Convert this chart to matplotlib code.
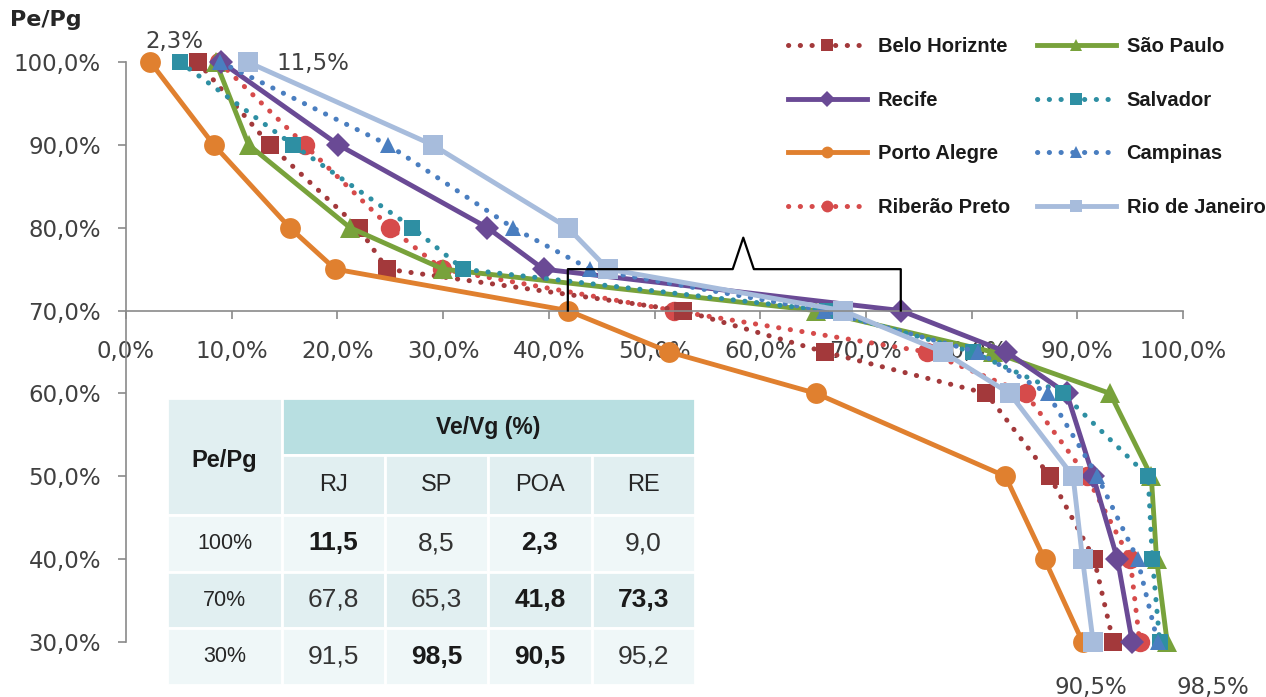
import matplotlib
matplotlib.use("Agg")
import matplotlib.pyplot as plt
from matplotlib.lines import Line2D
from matplotlib.patches import Rectangle
from matplotlib.ticker import FuncFormatter, MultipleLocator

# Pe/Pg levels (%) and Ve/Vg (%) for each city at those levels
pe_pg = [100, 90, 80, 75, 70, 65, 60, 50, 40, 30]

belo_horizonte = [6.8, 13.6, 22.0, 24.7, 52.7, 66.1, 81.4, 87.4, 91.6, 93.4]
sao_paulo      = [8.5, 11.6, 21.2, 30.0, 65.3, 82.0, 93.1, 97.0, 97.5, 98.5]
recife         = [9.0, 20.1, 34.2, 39.5, 73.3, 83.3, 89.0, 91.5, 93.8, 95.2]
salvador       = [5.1, 15.8, 27.1, 31.9, 66.3, 80.1, 88.6, 96.7, 97.1, 97.8]
porto_alegre   = [2.3, 8.3, 15.5, 19.8, 41.8, 51.4, 65.3, 83.2, 86.9, 90.5]
campinas       = [8.9, 24.8, 36.6, 43.9, 66.0, 80.6, 87.2, 91.9, 95.7, 97.6]
ribeirao_preto = [8.8, 16.9, 25.0, 29.9, 51.8, 75.8, 85.1, 90.9, 95.0, 95.9]
rio_de_janeiro = [11.5, 29.0, 41.8, 45.6, 67.8, 77.3, 83.6, 89.6, 90.5, 91.5]

city_names = ["Belo Horiznte", "São Paulo", "Recife", "Salvador",
              "Porto Alegre", "Campinas", "Riberão Preto", "Rio de Janeiro"]

# Summary table: columns and the Pe/Pg rows it reports
table_cols = ["RJ", "SP", "POA", "RE"]
table_rows = [100, 70, 30]

W, H = 1266, 697
fig = plt.figure(figsize=(W / 100, H / 100), dpi=100)
fig.patch.set_facecolor("white")

ax = fig.add_axes([126 / W, (H - 642) / H, 1057 / W, 580 / H])
ax.set_xlim(0, 100)
ax.set_ylim(30, 100)

styles = {
    "Belo Horiznte":  dict(color="#a3393b", ls="dot", marker="s", ms=13, z=2.0),
    "São Paulo":      dict(color="#78a23b", ls="solid", marker="^", ms=14, z=2.0),
    "Recife":         dict(color="#6a4a95", ls="solid", marker="D", ms=12, z=2.0),
    "Salvador":       dict(color="#2e8fa3", ls="dot", marker="s", ms=12, z=2.0),
    "Porto Alegre":   dict(color="#e0802f", ls="solid", marker="o", ms=15, z=2.0),
    "Campinas":       dict(color="#4a7ec0", ls="dot", marker="^", ms=12, z=2.0),
    "Riberão Preto":  dict(color="#d64b4b", ls="dot", marker="o", ms=14, z=1.9),
    "Rio de Janeiro": dict(color="#a7bcdc", ls="solid", marker="s", ms=15, z=2.1),
}
series = [belo_horizonte, sao_paulo, recife, salvador,
          porto_alegre, campinas, ribeirao_preto, rio_de_janeiro]

handles = {}
for name, vals in zip(city_names, series):
    st = styles[name]
    if st["ls"] == "dot":
        lkw = dict(linestyle=(0, (0.05, 2.3)), dash_capstyle="round", linewidth=3.6)
    else:
        lkw = dict(linestyle="-", linewidth=3.5, solid_joinstyle="round")
    ax.plot(vals, pe_pg, color=st["color"], marker=st["marker"],
            markersize=st["ms"], markeredgewidth=0, clip_on=False,
            zorder=st["z"], **lkw)
    handles[name] = Line2D([], [], color=st["color"], marker=st["marker"],
                           markersize=8.5, markeredgewidth=0, **lkw)

# Axes styling: y axis on the left, x axis crossing at Pe/Pg = 70%
for s in ("top", "right"):
    ax.spines[s].set_visible(False)
ax.spines["left"].set_color("#8a8a8a")
ax.spines["bottom"].set_color("#8a8a8a")
ax.spines["bottom"].set_position(("data", 70))
ax.spines["left"].set_linewidth(1.2)
ax.spines["bottom"].set_linewidth(1.2)
ax.xaxis.set_major_locator(MultipleLocator(10))
ax.yaxis.set_major_locator(MultipleLocator(10))
pct = FuncFormatter(lambda v, p: f"{v:.1f}%".replace(".", ","))
ax.xaxis.set_major_formatter(pct)
ax.yaxis.set_major_formatter(pct)
ax.tick_params(axis="x", direction="out", length=6, width=1.2, color="#8a8a8a",
               labelsize=16.5, labelcolor="#404040", pad=15)
ax.tick_params(axis="y", direction="out", length=6, width=1.2, color="#8a8a8a",
               labelsize=16.5, labelcolor="#404040", pad=12)
ax.set_facecolor("none")

fig.text(10 / W, 1 - 20 / H, "Pe/Pg", fontsize=16, fontweight="bold",
         color="#262626", va="center", ha="left")

# Value callouts
lab_kw = dict(fontsize=16.5, color="#404040", textcoords="offset points",
              annotation_clip=False)
ax.annotate("2,3%", (porto_alegre[0], pe_pg[0]), xytext=(17, 15),
            ha="center", va="center", **lab_kw)
ax.annotate("11,5%", (rio_de_janeiro[0], pe_pg[0]), xytext=(21, -1),
            ha="left", va="center", **lab_kw)
ax.annotate("90,5%", (porto_alegre[-1], pe_pg[-1]), xytext=(6, -33),
            ha="center", va="center", **lab_kw)
ax.annotate("98,5%", (sao_paulo[-1], pe_pg[-1]), xytext=(33, -33),
            ha="center", va="center", **lab_kw)

# Bracket spanning POA and RE at Pe/Pg = 70%
x0 = porto_alegre[pe_pg.index(70)]
x1 = recife[pe_pg.index(70)]
y_base, y_top, y_peak = 70, 75, 78.8
xm = (x0 + x1) / 2 + 0.85
ax.plot([x0, x0, xm - 1.0, xm, xm + 1.0, x1, x1],
        [y_base, y_top, y_top, y_peak, y_top, y_top, y_base],
        color="black", linewidth=1.6, clip_on=False, zorder=5)

# Legend, two columns
order = ["Belo Horiznte", "Recife", "Porto Alegre", "Riberão Preto",
         "São Paulo", "Salvador", "Campinas", "Rio de Janeiro"]
leg = fig.legend([handles[n] for n in order], order, ncol=2,
                 loc="upper left", bbox_to_anchor=(778 / W, 1 - 27 / H),
                 frameon=False, handlelength=3.9, handletextpad=0.55,
                 labelspacing=1.72, columnspacing=1.35, borderpad=0,
                 prop={"family": "Liberation Sans", "weight": "bold", "size": 14.5})
for t in leg.get_texts():
    t.set_color("#1a1a1a")

# Summary table drawn as cells
tab = fig.add_axes([167 / W, (H - 685) / H, 528 / W, 287 / H])
tab.set_xlim(0, 528)
tab.set_ylim(287, 0)
tab.axis("off")
col_edges = [0, 115, 218, 321, 425, 528]
row_edges = [0, 57, 117, 174, 230, 287]
c_head = "#b8dfe1"
c_mid = "#e1eff1"
c_light = "#eff7f8"
edge = dict(edgecolor="white", linewidth=2)

tab.add_patch(Rectangle((0, 0), col_edges[1], row_edges[2], facecolor=c_mid, **edge))
tab.add_patch(Rectangle((col_edges[1], 0), col_edges[-1] - col_edges[1], row_edges[1],
                        facecolor=c_head, **edge))
tfont = "Liberation Sans"
tab.text(col_edges[1] / 2, row_edges[2] / 2 + 4, "Pe/Pg", ha="center", va="center",
         fontsize=17, fontweight="bold", family=tfont, color="#1a1a1a")
tab.text((col_edges[1] + col_edges[-1]) / 2, row_edges[1] / 2 + 1, "Ve/Vg (%)",
         ha="center", va="center", fontsize=16.5, fontweight="bold", family=tfont,
         color="#1a1a1a")
for i, c in enumerate(table_cols):
    xa, xb = col_edges[i + 1], col_edges[i + 2]
    tab.add_patch(Rectangle((xa, row_edges[1]), xb - xa, row_edges[2] - row_edges[1],
                            facecolor=c_mid, **edge))
    tab.text((xa + xb) / 2, (row_edges[1] + row_edges[2]) / 2, c, ha="center",
             va="center", fontsize=17, family=tfont, color="#262626")

col_series = [rio_de_janeiro, sao_paulo, porto_alegre, recife]
for r, level in enumerate(table_rows):
    ya, yb = row_edges[r + 2], row_edges[r + 3]
    fc = c_mid if r % 2 == 1 else c_light
    vals = [s[pe_pg.index(level)] for s in col_series]
    lo, hi = min(vals), max(vals)
    tab.add_patch(Rectangle((0, ya), col_edges[1], yb - ya, facecolor=fc, **edge))
    tab.text(col_edges[1] / 2, (ya + yb) / 2, f"{level}%", ha="center", va="center",
             fontsize=15.5, family=tfont, color="#262626")
    for i, v in enumerate(vals):
        xa, xb = col_edges[i + 1], col_edges[i + 2]
        tab.add_patch(Rectangle((xa, ya), xb - xa, yb - ya, facecolor=fc, **edge))
        bold = v in (lo, hi)
        tab.text((xa + xb) / 2, (ya + yb) / 2, f"{v:.1f}".replace(".", ","),
                 ha="center", va="center", fontsize=19, family=tfont,
                 fontweight="bold" if bold else "normal",
                 color="#1a1a1a" if bold else "#333333")

fig.savefig("out.png", dpi=100)
